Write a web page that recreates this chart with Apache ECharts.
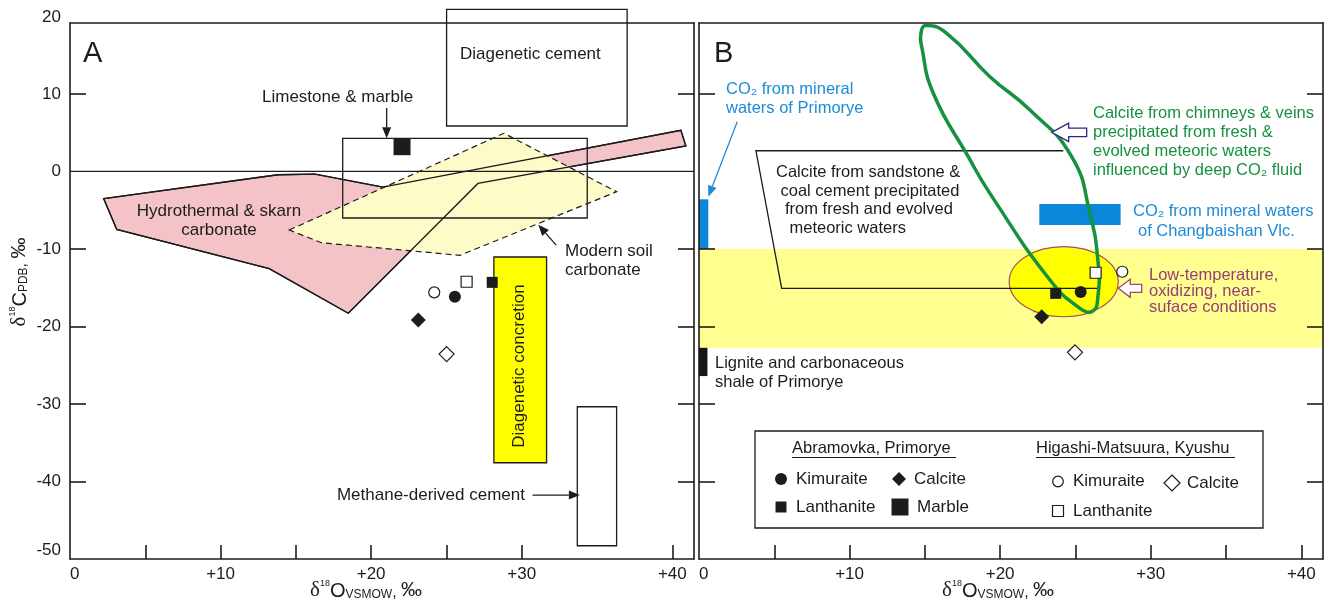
<!DOCTYPE html>
<html><head><meta charset="utf-8">
<script src="https://cdn.jsdelivr.net/npm/echarts@6.0.0/dist/echarts.min.js"></script>
<style>html,body{margin:0;padding:0;background:#fff}#c{width:1326px;height:602px}</style>
</head><body><div id="c"></div>
<script>
// ---------- axis ticks and labels ----------
const xTickValuesA = [5, 10, 15, 20, 25, 30, 40];
const xTickValuesB = [5, 10, 15, 20, 25, 30, 35, 40];
const xLabelValues = [0, 10, 20, 30, 40];
const xTickLabels = ['0', '+10', '+20', '+30', '+40'];
const yTickValues = [-40, -30, -20, -10, 10];
const yLabelValues = [-50, -40, -30, -20, -10, 0, 10];
const yTickLabels = ['-50', '-40', '-30', '-20', '-10', '0', '10'];
const yTopLabelValue = 20;
const yTopLabel = '20';
const xRange = [0, 41.44];
const yRange = [-50, 19.15];

// ---------- panel A ----------
const hydrothermalA = [[2.24,-3.52],[13.81,-0.43],[16.27,-0.34],[20.78,-2.01],[40.57,5.31],[40.9,3.28],[27.09,-1.55],[18.48,-18.3],[13.23,-12.55],[3.1,-7.47]];
const soilA = [[14.56,-7.56],[28.82,4.92],[36.3,-2.62],[25.9,-10.82],[16.71,-9.2]];
const zeroLineA = [[0,0],[41.44,0]];
const limestoneBoxA = [18.11, -6.01, 34.35, 4.27];
const cementBoxA = [25.01, 5.86, 37.0, 20.91];
const methaneBoxA = [33.69, -48.29, 36.3, -30.36];
const concretionA = [28.15, -37.58, 31.65, -11.04];
const marbleA = [[22.05, 3.19]];
const kimuraiteA = [[25.56, -16.18]];
const lanthaniteA = [[28.04, -14.31]];
const calciteA = [[23.13, -19.17]];
const kimuraiteHMA = [[24.19, -15.6]];
const lanthaniteHMA = [[26.34, -14.23]];
const calciteHMA = [[25.01, -23.56]];
const arrowsA = [[21.03, 8.18, 21.03, 4.27], [32.29, -9.5, 31.1, -6.89], [30.72, -41.75, 33.86, -41.75]];

// ---------- panel B ----------
const lowTempBandB = [0, -22.75, 41.44, -10];
const co2PrimoryeB = [0, -10, 0.62, -3.6];
const ligniteB = [0, -26.4, 0.56, -22.75];
const co2ChangbaishanB = [22.6, -6.92, 28.0, -4.21];
const sandstoneB = [[24.19,2.67],[3.78,2.67],[5.49,-15.08],[26.49,-15.08]];
const chimneyLoopB = [[15.07,18.82],[16.45,17.82],[19.32,12.22],[21.98,7.92],[24.75,1.9],[25.96,-5.41],[26.51,-11.86],[26.49,-16.2],[26.16,-18.01],[25.3,-17.66],[23.31,-14.01],[19.32,-2.83],[17.88,1.9],[15.56,10.08],[14.79,16.09],[14.74,17.86]];
const lowTempEllipseB = [24.22, -14.23, 3.62, 4.52];
const kimuraiteB = [[25.35, -15.56]];
const lanthaniteB = [[23.69, -15.73]];
const calciteB = [[22.76, -18.75]];
const kimuraiteHMB = [[28.11, -12.94]];
const lanthaniteHMB = [[26.34, -13.07]];
const calciteHMB = [[24.97, -23.34]];
const arrowsB = [[2.54, 6.41, 0.62, -3.26]];
const hollowArrowsB = [[23.42, 5.04], [27.84, -15.08]];

// ---------- styling ----------
const FONT = '"Liberation Sans", Arial, Helvetica, sans-serif';
const INK = '#1c1c1c';
const PINK = '#f4c3c7', LIGHTY = '#fdfbc8', YEL = '#ffff00', BAND = '#ffff8f';
const BLUE = '#0b86d8', BLUETXT = '#1d8bd6', GREEN = '#16913f', PURPLE = '#963e7a';
const hollowShapes = [{head:17, hh:9.3, sh:4.2, len:35, stroke:'#2b2a7c'}, {head:12, hh:9, sh:4, len:23.5, stroke:'#9b4a6a'}];

const AX = {A:{xAxisIndex:0, yAxisIndex:0}, B:{xAxisIndex:2, yAxisIndex:2}};

function polySeries(panel, pts, style, closed, smooth) {
  return Object.assign({type:'custom', silent:true, clip:false, data: pts,
    renderItem(params, api) {
      if (params.dataIndex !== 0) return null;
      return {type: closed ? 'polygon' : 'polyline', shape:{points: pts.map(p => api.coord(p)), smooth: smooth || 0}, style};
    }}, AX[panel]);
}
function rectSeries(panel, boxes, style) {
  return Object.assign({type:'custom', silent:true, clip:false, data: boxes,
    renderItem(params, api) {
      const a = api.coord([api.value(0), api.value(1)]);
      const b = api.coord([api.value(2), api.value(3)]);
      return {type:'rect', shape:{x:Math.min(a[0],b[0]), y:Math.min(a[1],b[1]), width:Math.abs(b[0]-a[0]), height:Math.abs(b[1]-a[1])}, style};
    }}, AX[panel]);
}
function arrowSeries(panel, arrows, color) {
  return Object.assign({type:'custom', silent:true, clip:false, data: arrows,
    renderItem(params, api) {
      const p1 = api.coord([api.value(0), api.value(1)]);
      const p2 = api.coord([api.value(2), api.value(3)]);
      const dx = p2[0]-p1[0], dy = p2[1]-p1[1], L = Math.hypot(dx, dy), ux = dx/L, uy = dy/L;
      const hl = 11, hw = 4.5, bx = p2[0]-ux*hl, by = p2[1]-uy*hl;
      return {type:'group', children:[
        {type:'line', shape:{x1:p1[0], y1:p1[1], x2:bx, y2:by}, style:{stroke:color, lineWidth:1.3}},
        {type:'polygon', shape:{points:[p2, [bx-uy*hw, by+ux*hw], [bx+uy*hw, by-ux*hw]]}, style:{fill:color}}
      ]};
    }}, AX[panel]);
}
function hollowSeries(panel, tips) {
  return Object.assign({type:'custom', silent:true, clip:false, data: tips,
    renderItem(params, api) {
      const t = api.coord([api.value(0), api.value(1)]);
      const s = hollowShapes[params.dataIndex];
      const rel = [[0,0],[s.head,-s.hh],[s.head,-s.sh],[s.len,-s.sh],[s.len,s.sh],[s.head,s.sh],[s.head,s.hh]];
      return {type:'polygon', shape:{points: rel.map(r => [t[0]+r[0], t[1]+r[1]])}, style:{fill:'#fff', stroke:s.stroke, lineWidth:1.3}};
    }}, AX[panel]);
}
function ellipseSeries(panel, e, style) {
  return Object.assign({type:'custom', silent:true, clip:false, data:[e],
    renderItem(params, api) {
      const c = api.coord([api.value(0), api.value(1)]);
      const s = api.size([api.value(2), api.value(3)]);
      return {type:'ellipse', shape:{cx:c[0], cy:c[1], rx:s[0], ry:s[1]}, style};
    }}, AX[panel]);
}
function pts(panel, data, symbol, size, open) {
  return Object.assign({type:'scatter', silent:true, data, symbol, symbolSize:size, z:5,
    itemStyle: open ? {color:'#fff', borderColor:INK, borderWidth:1.2, opacity:1} : {color:INK, opacity:1}}, AX[panel]);
}

const lineStyle = {stroke: INK, lineWidth: 1.3, fill: null};

function xAxes(gridIndex, ticks) {
  return [{
    type:'value', gridIndex, position:'bottom', min:xRange[0], max:xRange[1], z:10,
    axisLine:{show:true, onZero:false, lineStyle:{color:INK, width:1.6}},
    axisTick:{show:true, inside:true, length:14, customValues:ticks, lineStyle:{color:INK, width:1.6}},
    axisLabel:{show:true, customValues:xLabelValues, formatter:v => xTickLabels[xLabelValues.indexOf(v)], color:INK, fontSize:17, fontFamily:FONT, margin:7, alignMinLabel:'left'},
    splitLine:{show:false}
  }, {
    type:'value', gridIndex, position:'top', min:xRange[0], max:xRange[1], z:10,
    axisLine:{show:true, onZero:false, lineStyle:{color:INK, width:1.6}},
    axisTick:{show:false}, axisLabel:{show:false}, splitLine:{show:false}
  }];
}
function yAxes(gridIndex, labels) {
  return [{
    type:'value', gridIndex, position:'left', min:yRange[0], max:yRange[1], z:10,
    axisLine:{show:true, onZero:false, lineStyle:{color:INK, width:1.6}},
    axisTick:{show:true, inside:true, length:16, customValues:yTickValues, lineStyle:{color:INK, width:1.6}},
    axisLabel:{show:labels, customValues:yLabelValues, formatter:v => yTickLabels[yLabelValues.indexOf(v)], color:INK, fontSize:17, fontFamily:FONT, margin:9, verticalAlignMinLabel:'bottom'},
    splitLine:{show:false}
  }, {
    type:'value', gridIndex, position:'right', min:yRange[0], max:yRange[1], z:10,
    axisLine:{show:true, onZero:false, lineStyle:{color:INK, width:1.6}},
    axisTick:{show:true, inside:true, length:16, customValues:yTickValues, lineStyle:{color:INK, width:1.6}},
    axisLabel:{show:false}, splitLine:{show:false}
  }];
}

const series = [
  // A
  polySeries('A', hydrothermalA, {fill:PINK, stroke:INK, lineWidth:1.3}, true),
  polySeries('A', soilA, {fill:LIGHTY}, true),
  polySeries('A', hydrothermalA, lineStyle, true),
  polySeries('A', soilA, {fill:null, stroke:INK, lineWidth:1.2, lineDash:[6,4]}, true),
  polySeries('A', zeroLineA, lineStyle, false),
  rectSeries('A', [limestoneBoxA, cementBoxA, methaneBoxA], lineStyle),
  rectSeries('A', [concretionA], {fill:YEL, stroke:INK, lineWidth:1.3}),
  arrowSeries('A', arrowsA, INK),
  pts('A', marbleA, 'rect', 17, false),
  pts('A', kimuraiteA, 'circle', 12, false),
  pts('A', lanthaniteA, 'rect', 11, false),
  pts('A', calciteA, 'diamond', 15, false),
  pts('A', kimuraiteHMA, 'circle', 11, true),
  pts('A', lanthaniteHMA, 'rect', 11, true),
  pts('A', calciteHMA, 'diamond', 15, true),
  // B
  rectSeries('B', [lowTempBandB], {fill:BAND}),
  rectSeries('B', [co2PrimoryeB, co2ChangbaishanB], {fill:BLUE}),
  rectSeries('B', [ligniteB], {fill:'#1a1512'}),
  ellipseSeries('B', lowTempEllipseB, {fill:YEL, stroke:'#a0506e', lineWidth:1.2}),
  polySeries('B', sandstoneB, lineStyle, false),
  polySeries('B', chimneyLoopB, {fill:null, stroke:GREEN, lineWidth:3.5}, true, 0.5),
  arrowSeries('B', arrowsB, BLUETXT),
  hollowSeries('B', hollowArrowsB),
  pts('B', kimuraiteB, 'circle', 12, false),
  pts('B', lanthaniteB, 'rect', 11, false),
  pts('B', calciteB, 'diamond', 15, false),
  pts('B', kimuraiteHMB, 'circle', 11, true),
  pts('B', lanthaniteHMB, 'rect', 11, true),
  pts('B', calciteHMB, 'diamond', 15, true)
];

const chart = echarts.init(document.getElementById('c'), null, {renderer:'canvas'});
chart.setOption({
  animation:false,
  backgroundColor:'#fff',
  grid:[{left:70, top:23, width:624, height:536}, {left:699, top:23, width:624, height:536}],
  xAxis:[...xAxes(0, xTickValuesA), ...xAxes(1, xTickValuesB)],
  yAxis:[...yAxes(0, true), ...yAxes(1, false)],
  series
});

// ---------- text annotations ----------
function T(x, y, text, o) {
  o = o || {};
  return {type:'text', x, y, z:100, silent:true, rotation:o.rot || 0,
    style:{text, fill:o.color || INK, fontSize:o.size || 17, fontFamily:FONT, textAlign:o.align || 'left', textVerticalAlign:'middle', rich:o.rich}};
}
const titleRich = {
  d:{fontSize:21, fontFamily:'"Liberation Serif", serif', fill:INK, verticalAlign:'bottom', lineHeight:22},
  s:{fontSize:9, fontFamily:FONT, fill:INK, verticalAlign:'top', lineHeight:9},
  o:{fontSize:20, fontFamily:FONT, fill:INK, verticalAlign:'bottom', lineHeight:22},
  u:{fontSize:12, fontFamily:FONT, fill:INK, verticalAlign:'bottom', lineHeight:16},
  c:{fontSize:16, fontFamily:FONT, fill:INK, verticalAlign:'bottom', lineHeight:19},
  p:{fontSize:21, fontFamily:FONT, fill:INK, verticalAlign:'bottom', lineHeight:22}
};
const xTitle = '{d|δ}{s|18}{o|O}{u|VSMOW}{c|, }{p|‰}';
const yTitle = '{d|δ}{s|18}{o|C}{u|PDB}{c|, }{p|‰}';
const SB = 16.5;

const p20 = chart.convertToPixel({xAxisIndex:0, yAxisIndex:0}, [0, yTopLabelValue]);

const g = [
  T(p20[0]-9, p20[1]+1, yTopLabel, {align:'right'}),
  T(83, 54, 'A', {size:29}),
  T(460, 54, 'Diagenetic cement'),
  T(262, 97, 'Limestone & marble'),
  T(219, 211, 'Hydrothermal & skarn', {align:'center'}),
  T(219, 230, 'carbonate', {align:'center'}),
  T(565, 251, 'Modern soil'),
  T(565, 270, 'carbonate'),
  T(519, 366, 'Diagenetic concretion', {align:'center', rot:Math.PI/2}),
  T(525, 495, 'Methane-derived cement', {align:'right'}),
  T(310, 590, xTitle, {rich:titleRich}),
  T(19, 282, yTitle, {rich:titleRich, align:'center', rot:Math.PI/2}),
  // B
  T(714, 54, 'B', {size:29}),
  T(726, 89, 'CO₂ from mineral', {color:BLUETXT, size:SB}),
  T(726, 108.5, 'waters of Primorye', {color:BLUETXT, size:SB}),
  T(776, 172, 'Calcite from sandstone &', {size:SB}),
  T(780.5, 191, 'coal cement precipitated', {size:SB}),
  T(785, 209.5, 'from fresh and evolved', {size:SB}),
  T(789.5, 228, 'meteoric waters', {size:SB}),
  T(1093, 113.5, 'Calcite from chimneys & veins', {color:GREEN, size:SB}),
  T(1093, 132.5, 'precipitated from fresh &', {color:GREEN, size:SB}),
  T(1093, 151, 'evolved meteoric waters', {color:GREEN, size:SB}),
  T(1093, 170, 'influenced by deep CO₂ fluid', {color:GREEN, size:SB}),
  T(1133, 211, 'CO₂ from mineral waters', {color:BLUETXT, size:SB}),
  T(1138, 231, 'of Changbaishan Vlc.', {color:BLUETXT, size:SB}),
  T(1149, 275, 'Low-temperature,', {color:PURPLE, size:SB}),
  T(1149, 291.5, 'oxidizing, near-', {color:PURPLE, size:SB}),
  T(1149, 307.5, 'suface conditions', {color:PURPLE, size:SB}),
  T(715, 363, 'Lignite and carbonaceous', {size:SB}),
  T(715, 382, 'shale of Primorye', {size:SB}),
  T(942, 590, xTitle, {rich:titleRich}),
  // legend
  {type:'rect', z:90, silent:true, shape:{x:755, y:431, width:508, height:97}, style:{fill:'#fff', stroke:INK, lineWidth:1.3}},
  T(792, 448, 'Abramovka, Primorye', {size:SB}),
  {type:'line', z:100, silent:true, shape:{x1:792, y1:457.5, x2:956, y2:457.5}, style:{stroke:INK, lineWidth:1}},
  T(1036, 448, 'Higashi-Matsuura, Kyushu', {size:SB}),
  {type:'line', z:100, silent:true, shape:{x1:1036, y1:457.5, x2:1235, y2:457.5}, style:{stroke:INK, lineWidth:1}},
  {type:'circle', z:100, silent:true, shape:{cx:781, cy:479, r:6}, style:{fill:INK}},
  T(796, 479, 'Kimuraite'),
  {type:'polygon', z:100, silent:true, shape:{points:[[899,472],[906,479],[899,486],[892,479]]}, style:{fill:INK}},
  T(914, 479, 'Calcite'),
  {type:'rect', z:100, silent:true, shape:{x:775.5, y:501.5, width:11, height:11}, style:{fill:INK}},
  T(796, 507.5, 'Lanthanite'),
  {type:'rect', z:100, silent:true, shape:{x:891.5, y:498.5, width:17, height:17}, style:{fill:INK}},
  T(917, 507, 'Marble'),
  {type:'circle', z:100, silent:true, shape:{cx:1058, cy:481.5, r:5.3}, style:{fill:'#fff', stroke:INK, lineWidth:1.2}},
  T(1073, 481.5, 'Kimuraite'),
  {type:'polygon', z:100, silent:true, shape:{points:[[1172,475],[1180,483],[1172,491],[1164,483]]}, style:{fill:'#fff', stroke:INK, lineWidth:1.2}},
  T(1187, 483, 'Calcite'),
  {type:'rect', z:100, silent:true, shape:{x:1052.5, y:505.5, width:11, height:11}, style:{fill:'#fff', stroke:INK, lineWidth:1.2}},
  T(1073, 511, 'Lanthanite')
];
chart.setOption({graphic:{elements:g}});
</script></body></html>
